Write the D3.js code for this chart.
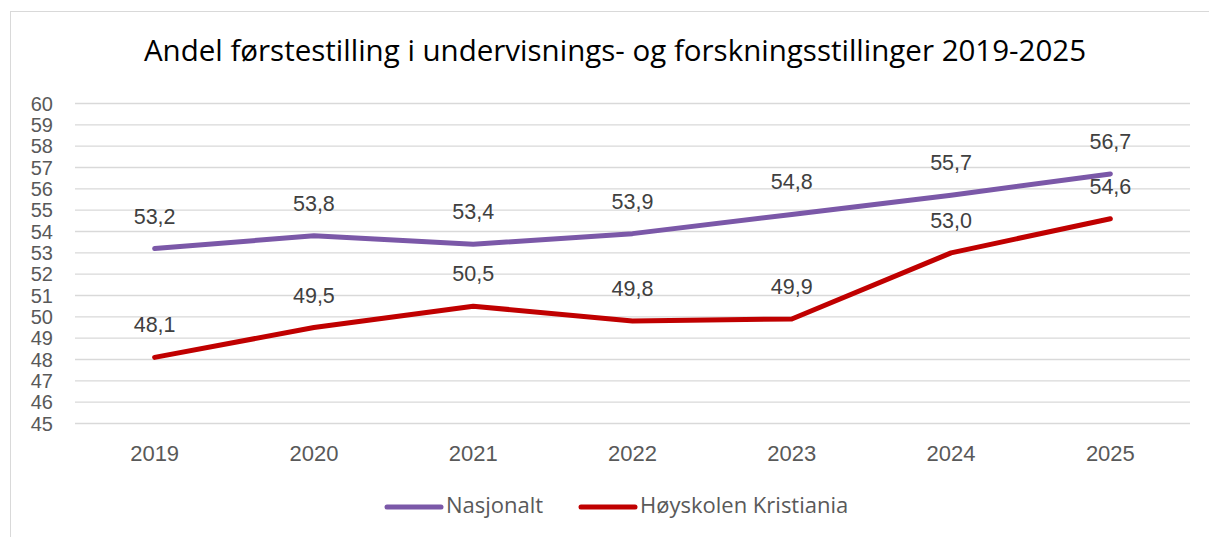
<!DOCTYPE html>
<html>
<head>
<meta charset="utf-8">
<script src="https://cdn.jsdelivr.net/npm/d3@7"></script>
<style>
  body { margin: 0; background: #fff; }
  text { font-family: "Liberation Sans", Arial, sans-serif; }
  .aptos { font-family: "Open Sans", "Liberation Sans", sans-serif; }
</style>
</head>
<body>
<svg id="chart"></svg>
<script>
const years = ["2019", "2020", "2021", "2022", "2023", "2024", "2025"]
const nasjonalt = [53.2, 53.8, 53.4, 53.9, 54.8, 55.7, 56.7]
const kristiania = [48.1, 49.5, 50.5, 49.8, 49.9, 53.0, 54.6]
const seriesNames = ["Nasjonalt", "Høyskolen Kristiania"]
const yTicks = d3.range(45, 61, 1)

const width = 1209
const height = 537
const colors = ["#7B58A8", "#C00000"]

const svg = d3.select("#chart").attr("width", width).attr("height", height)

// chart border
svg.append("rect")
  .attr("x", 10.5).attr("y", 11.5)
  .attr("width", 1205).attr("height", 540)
  .attr("fill", "white").attr("stroke", "#d9d9d9")

svg.append("text")
  .attr("class", "aptos")
  .attr("x", 615).attr("y", 61)
  .attr("text-anchor", "middle")
  .attr("font-size", 29.5)
  .attr("fill", "#000")
  .text("Andel førstestilling i undervisnings- og forskningsstillinger 2019-2025")

const x = d3.scalePoint().domain(years).range([75, 1190]).padding(0.5)
const y = d3.scaleLinear().domain([45, 60]).range([423.5, 103.5])

// gridlines
svg.append("g")
  .selectAll("line")
  .data(yTicks)
  .enter()
  .append("line")
  .attr("x1", 75).attr("x2", 1190)
  .attr("y1", (d) => y(d)).attr("y2", (d) => y(d))
  .attr("stroke", "#d9d9d9").attr("stroke-width", 1.3)

// y labels
svg.append("g")
  .selectAll("text")
  .data(yTicks)
  .enter()
  .append("text")
  .attr("x", 53).attr("y", (d) => y(d) + 7)
  .attr("text-anchor", "end")
  .attr("font-size", 20)
  .attr("fill", "#595959")
  .text((d) => d)

// x labels
svg.append("g")
  .selectAll("text")
  .data(years)
  .enter()
  .append("text")
  .attr("x", (d) => x(d)).attr("y", 461)
  .attr("text-anchor", "middle")
  .attr("font-size", 22)
  .attr("fill", "#595959")
  .text((d) => d)

const line = d3.line()
  .x((d, i) => x(years[i]))
  .y((d) => y(d))

const fmt = (v) => v.toFixed(1).replace(".", ",")

;[nasjonalt, kristiania].forEach((vals, s) => {
  svg.append("path")
    .datum(vals)
    .attr("d", line)
    .attr("fill", "none")
    .attr("stroke", colors[s])
    .attr("stroke-width", 5)
    .attr("stroke-linecap", "round")
    .attr("stroke-linejoin", "round")

  svg.append("g")
    .selectAll("text")
    .data(vals)
    .enter()
    .append("text")
    .attr("x", (d, i) => x(years[i]))
    .attr("y", (d) => y(d) - 25)
    .attr("text-anchor", "middle")
    .attr("font-size", 21.5)
    .attr("fill", "#404040")
    .text((d) => fmt(d))
})

// legend
const legend = svg.append("g")
const legendX = [387, 581]
seriesNames.forEach((name, i) => {
  legend.append("line")
    .attr("x1", legendX[i]).attr("x2", legendX[i] + 54)
    .attr("y1", 507).attr("y2", 507)
    .attr("stroke", colors[i]).attr("stroke-width", 5)
    .attr("stroke-linecap", "round")
  legend.append("text")
    .attr("class", "aptos")
    .attr("x", legendX[i] + 59).attr("y", 513)
    .attr("font-size", 22)
    .attr("fill", "#595959")
    .text(name)
})
</script>
</body>
</html>
